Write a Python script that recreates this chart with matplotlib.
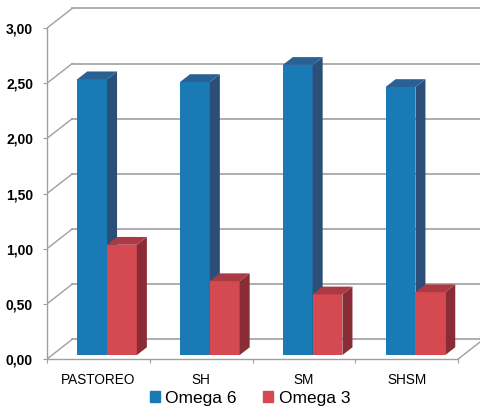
import matplotlib.pyplot as plt
from matplotlib.patches import Polygon, Patch
import numpy as np

categorias = ['PASTOREO', 'SH', 'SM', 'SHSM']
omega6 = [2.50, 2.475, 2.63, 2.43]
omega3 = [1.00, 0.67, 0.55, 0.57]
series = ['Omega 6', 'Omega 3']
yticks = [0.0, 0.5, 1.0, 1.5, 2.0, 2.5, 3.0]

plt.rcParams['font.family'] = ['Liberation Sans', 'DejaVu Sans']

# colours: front, side, top
azul = ('#1a7ab5', '#2b4f78', '#2a6194')
rojo = ('#d54950', '#8a2c35', '#ab3a44')
gris = '#9f9f9f'

# depth of the 3d box (data units) and where the bars sit in it
DX, DY = 0.244, 0.177
zf, zb = 0.2, 0.6
w = 0.29
x0 = 0.245


def proj(x, y, z):
    return (x + z * DX, y + z * DY)


def barra(ax, x, h, col, zo):
    fx, fy = proj(x, 0, zf)
    ax.bar(fx, h, width=w, bottom=fy, align='edge', color=col[0],
           edgecolor='none', zorder=zo)
    side = [proj(x + w, 0, zf), proj(x + w, 0, zb),
            proj(x + w, h, zb), proj(x + w, h, zf)]
    top = [proj(x, h, zf), proj(x + w, h, zf),
           proj(x + w, h, zb), proj(x, h, zb)]
    ax.add_patch(Polygon(side, closed=True, fc=col[1], ec='none', zorder=zo))
    ax.add_patch(Polygon(top, closed=True, fc=col[2], ec='none', zorder=zo))


fig = plt.figure(figsize=(4.8, 4.09), dpi=100)
ax = fig.add_axes([47 / 480, 50 / 409, 433 / 480, 359 / 409])
ax.set_xlim(0, 433 / 102.8)
ax.set_ylim(0, 359 / 110.33)
ncat = len(categorias)

# walls: back gridlines + diagonals on the side wall
for v in yticks:
    ax.plot([DX, ncat + DX], [v + DY, v + DY], color=gris, lw=1.2,
            zorder=0, clip_on=False)
    ax.plot([0, DX], [v, v + DY], color=gris, lw=1.0, zorder=0)
ax.plot([ncat, ncat + DX], [0, DY], color=gris, lw=1.0, zorder=0,
        clip_on=False)

zo = 2
for i in range(ncat):
    barra(ax, i + x0, omega6[i], azul, zo)
    barra(ax, i + x0 + w, omega3[i], rojo, zo + 1)
    zo += 2

for s in ['top', 'right']:
    ax.spines[s].set_visible(False)
ax.spines['left'].set_bounds(0, 3)
ax.spines['bottom'].set_bounds(0, ncat)
for s in ['left', 'bottom']:
    ax.spines[s].set_color(gris)
    ax.spines[s].set_linewidth(1.0)

ax.set_yticks(yticks)
ax.set_yticklabels([f'{v:.2f}'.replace('.', ',') for v in yticks],
                   fontweight='bold', fontsize=10)
ax.tick_params(axis='y', length=3, color=gris, pad=7)

ax.set_xticks(range(ncat + 1))
ax.set_xticklabels([])
ax.tick_params(axis='x', which='major', length=3, color=gris)
ax.set_xticks(np.arange(ncat) + 0.5, minor=True)
ax.set_xticklabels(categorias, minor=True, fontsize=9.8)
ax.tick_params(axis='x', which='minor', length=0, pad=10)

handles = [Patch(color=azul[0]), Patch(color=rojo[0])]
fig.legend(handles, series, loc='center', bbox_to_anchor=(250 / 480, 1 - 398 / 409),
           ncol=2, frameon=False, fontsize=12.5, handlelength=0.6,
           handleheight=0.6, handletextpad=0.3, columnspacing=1.5)

fig.savefig('out.png', dpi=100)
